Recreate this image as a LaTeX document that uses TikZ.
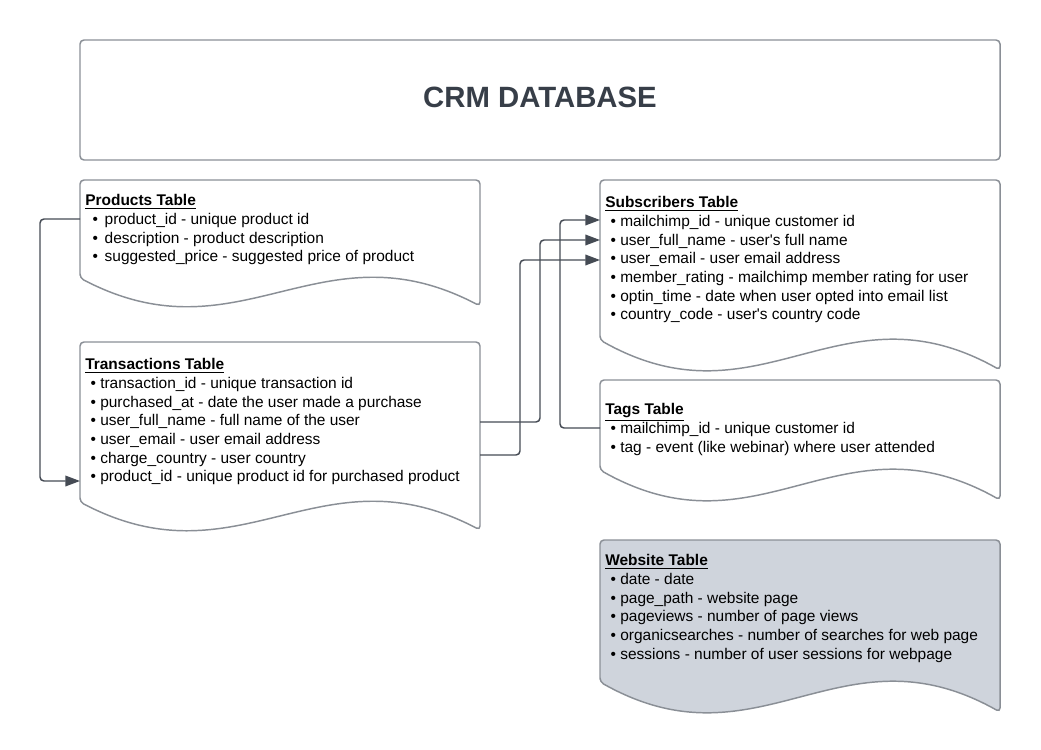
\documentclass[tikz,border=0pt]{standalone}
\usepackage{fontspec}
\setmainfont{Liberation Sans}
\usetikzlibrary{arrows.meta}

\definecolor{edgegray}{HTML}{8A8F96}
\definecolor{linkgray}{HTML}{454B54}
\definecolor{titlegray}{HTML}{373E48}
\definecolor{webfill}{HTML}{CFD4DC}

\newcommand{\thead}[1]{\underline{\textbf{#1}}}
\newcommand{\itm}{\hspace*{4pt}\textbullet\ }
\newcommand{\itmw}{\hspace*{5.5pt}\textbullet\hspace{5pt}}
% document outline: [style]{left}{top}{right}{bottom left}{wave}
\newcommand{\docshape}[6][]{%
  \draw[doc,#1] (#2,#5) -- (#2,#3) -- (#4,#3) -- (#4,{#5+#6})
    .. controls ({#2+0.6*(#4-#2)},{#5-2*#6}) and ({#2+0.4*(#4-#2)},{#5+3*#6}) .. (#2,#5) -- cycle;}

\begin{document}
\begin{tikzpicture}[x=0.75pt,y=-0.75pt,
  doc/.style={draw=edgegray,line width=1.1pt,fill=white,rounded corners=3pt},
  tbl/.style={anchor=north west,inner sep=0pt,align=left,font=\fontsize{11.6}{14}\selectfont},
  link/.style={draw=linkgray,line width=1.1pt,rounded corners=3pt,-{Triangle[length=11pt,width=8pt]}}]
  \useasboundingbox (0,0) rectangle (1041,749);

  % title
  \node[draw=edgegray,line width=1.1pt,rounded corners=3pt,minimum width=690pt,minimum height=90pt,
        text depth=4.6pt,font=\fontsize{22}{26}\bfseries\selectfont,text=titlegray] (crm) at (540,100) {CRM DATABASE};

  % tables
  \docshape{80}{180}{480}{278}{28}
  \node[tbl] (prod) at (85,194.5) {\thead{Products Table}\\
    \itmw product\_id - unique product id\\
    \itmw description - product description\\
    \itmw suggested\_price - suggested price of product};

  \docshape{80}{342}{480}{502}{28}
  \node[tbl] (trans) at (85,358.5) {\thead{Transactions Table}\\
    \itm transaction\_id - unique transaction id\\
    \itm purchased\_at - date the user made a purchase\\
    \itm user\_full\_name - full name of the user\\
    \itm user\_email - user email address\\
    \itm charge\_country - user country\\
    \itm product\_id - unique product id for purchased product};

  \docshape{600}{180}{1000}{340}{30}
  \node[tbl] (subs) at (605,196.5) {\thead{Subscribers Table}\\
    \itm mailchimp\_id - unique customer id\\
    \itm user\_full\_name - user\textquotesingle s full name\\
    \itm user\_email - user email address\\
    \itm member\_rating - mailchimp member rating for user\\
    \itm optin\_time - date when user opted into email list\\
    \itm country\_code - user\textquotesingle s country code};

  \docshape{600}{380}{1000}{470}{30}
  \node[tbl] (tags) at (605,403.5) {\thead{Tags Table}\\
    \itm mailchimp\_id - unique customer id\\
    \itm tag - event (like webinar) where user attended};

  \docshape[fill=webfill]{600}{540}{1000}{682}{30}
  \node[tbl] (web) at (605,554.5) {\thead{Website Table}\\
    \itm date - date\\
    \itm page\_path - website page\\
    \itm pageviews - number of page views\\
    \itm organicsearches - number of searches for web page\\
    \itm sessions - number of user sessions for webpage};

  % key ends
  \coordinate (prod-out) at (80,219);
  \coordinate (trans-in) at (80,481);
  \coordinate (trans-name) at (480,422);
  \coordinate (trans-mail) at (480,455);
  \coordinate (subs-id) at (600,220);
  \coordinate (subs-name) at (600,240);
  \coordinate (subs-mail) at (600,260);
  \coordinate (tags-id) at (600,428);

  \draw[link] (prod-out) -- ++(-40,0) |- (trans-in);
  \draw[link] (trans-name) -- ++(60,0) |- (subs-name);
  \draw[link] (trans-mail) -- ++(40,0) |- (subs-mail);
  \draw[link] (tags-id) -- ++(-40,0) |- (subs-id);
\end{tikzpicture}
\end{document}
